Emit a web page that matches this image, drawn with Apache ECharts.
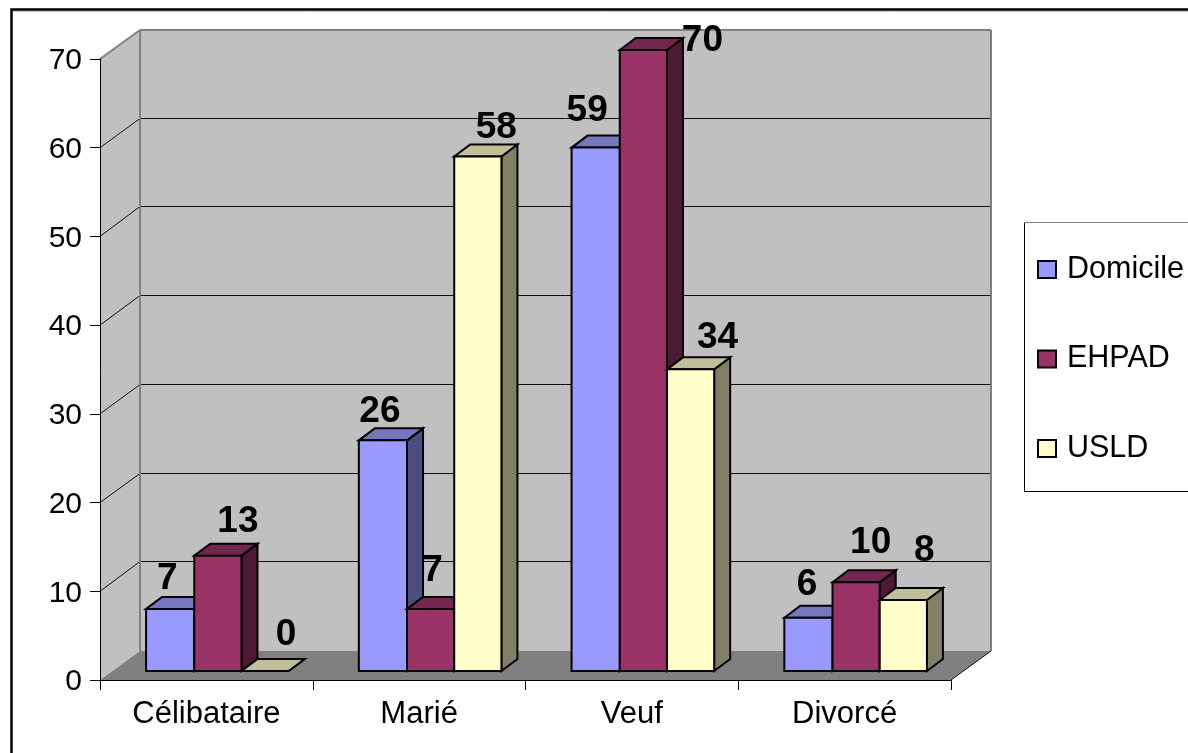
<!DOCTYPE html>
<html>
<head>
<meta charset="utf-8">
<style>html,body{margin:0;padding:0;background:#fff}#c{width:1188px;height:753px}</style>
<script src="https://cdn.jsdelivr.net/npm/echarts@6/dist/echarts.min.js"></script>
</head>
<body>
<div id="c"></div>
<script>
const categories = ['Célibataire', 'Marié', 'Veuf', 'Divorcé'];
const domicile = [7, 26, 59, 6];
const ehpad = [13, 7, 70, 10];
const usld = [0, 58, 34, 8];
const yTicks = [0, 10, 20, 30, 40, 50, 60, 70];

const FONT = '"Liberation Sans", Arial, sans-serif';
const DEPTH = [40, -29];
const BAR_SHIFT = [11.5, -9];
const BAR_DEPTH = [16, -12];
const BAR_FRAC = 47.2 / 212.75;

const faces = {
  Domicile: { front: '#9999FF', top: '#7777BF', side: '#4D4D80', widen: 1 },
  EHPAD: { front: '#993366', top: '#732650', side: '#4D1A33', widen: 0 },
  USLD: { front: '#FFFFCC', top: '#BFBF99', side: '#808066', widen: 0 }
};
// Hand-placed label nudges from each bar's top centre, as in the source chart
const labelNudge = {
  Domicile: [[-3, -30], [-3, -29], [-8.5, -37], [-1.5, -33]],
  EHPAD: [[20, -34], [2, -38], [59, -9], [14.5, -39]],
  USLD: [[21, -36], [18.5, -29], [27, -32], [21, -49]]
};

function poly(points, fill, stroke, lw) {
  return { type: 'polygon', shape: { points }, style: { fill, stroke: stroke || null, lineWidth: lw || 0, lineJoin: 'miter' } };
}
function line(a, b, stroke, lw) {
  return { type: 'line', shape: { x1: a[0], y1: a[1], x2: b[0], y2: b[1] }, style: { stroke, lineWidth: lw } };
}

function renderWalls(params, api) {
  const lo = api.coord([0, 0])[1], hi = api.coord([0, 70])[1];
  const cs = params.coordSys;
  const x0 = cs.x, x1 = cs.x + cs.width;
  const [dx, dy] = DEPTH;
  const children = [
    poly([[x0, lo], [x0 + dx, lo + dy], [x0 + dx, hi + dy], [x0, hi]], '#C0C0C0'),
    poly([[x0 + dx, lo + dy], [x1 + dx, lo + dy], [x1 + dx, hi + dy], [x0 + dx, hi + dy]], '#C0C0C0'),
    poly([[x0, lo], [x0 + dx, lo + dy], [x1 + dx, lo + dy], [x1, lo]], '#808080')
  ];
  yTicks.slice(1, -1).forEach(v => {
    const y = api.coord([0, v])[1];
    const back = Math.floor(y + dy - 0.5) + 0.5;
    children.push(line([x0, y], [x0 + dx, back], '#111', 1));
    children.push(line([x0 + dx, back], [x1 + dx, back], '#111', 1));
  });
  children.push(line([x0, hi], [x0 + dx, hi + dy], '#808080', 2));
  children.push(line([x0 + dx, hi + dy], [x1 + dx, hi + dy], '#808080', 2));
  children.push(line([x0 + dx, hi + dy], [x0 + dx, lo + dy], '#808080', 2));
  children.push(line([x1 + dx, hi + dy], [x1 + dx, lo + dy], '#808080', 2));
  children.push(line([x1, lo], [x1 + dx, lo + dy], '#111', 1));
  return { type: 'group', children };
}

function barRenderer(name, order) {
  const f = faces[name];
  return function (params, api) {
    const cat = api.value(0), val = api.value(1);
    const base = api.coord([cat, 0]);
    const top = api.coord([cat, val]);
    const w = api.size([1, 0])[0] * BAR_FRAC;
    const xl = base[0] + BAR_SHIFT[0] + (order - 1.5) * w - f.widen;
    const xr = base[0] + BAR_SHIFT[0] + (order - 0.5) * w;
    const yb = base[1] + BAR_SHIFT[1];
    const yt = top[1] + BAR_SHIFT[1];
    const [ox, oy] = BAR_DEPTH;
    const n = labelNudge[name][params.dataIndex];
    return {
      type: 'group',
      children: [
        poly([[xr, yb], [xr + ox, yb + oy], [xr + ox, yt + oy], [xr, yt]], f.side, '#000', 2),
        poly([[xl, yt], [xl + ox, yt + oy], [xr + ox, yt + oy], [xr, yt]], f.top, '#000', 2),
        poly([[xl, yb], [xr, yb], [xr, yt], [xl, yt]], f.front, '#000', 2),
        {
          type: 'text',
          x: (xl + xr) / 2 + n[0],
          y: yt + n[1],
          style: { text: String(val), fill: '#000', font: 'bold 37px ' + FONT, align: 'center', verticalAlign: 'middle' }
        }
      ]
    };
  };
}

function barSeries(name, order, values) {
  return {
    type: 'custom',
    name,
    z: 3 + order,
    renderItem: barRenderer(name, order),
    itemStyle: { color: faces[name].front },
    encode: { x: 0, y: 1 },
    data: values.map((v, i) => [i, v]),
    silent: true
  };
}

const chart = echarts.init(document.getElementById('c'), null, { renderer: 'canvas' });
chart.setOption({
  animation: false,
  backgroundColor: '#fff',
  textStyle: { fontFamily: FONT },
  graphic: [
    { type: 'rect', z: -1, shape: { x: 11.5, y: 9.5, width: 1300, height: 1000 }, style: { fill: '#fff', stroke: '#000', lineWidth: 2.5 } },
    { type: 'line', z: -1, shape: { x1: 13, y1: 11.5, x2: 1188, y2: 11.5 }, style: { stroke: '#C0C0C0', lineWidth: 1 } },
    { type: 'rect', z: 1, shape: { x: 1024.5, y: 222.5, width: 300, height: 269 }, style: { fill: '#fff', stroke: '#000', lineWidth: 1 } },
    { type: 'line', z: 1, shape: { x1: 1024, y1: 222.5, x2: 1188, y2: 222.5 }, style: { stroke: '#808080', lineWidth: 1 } }
  ],
  grid: { left: 100, top: 59, width: 851, height: 621, containLabel: false },
  xAxis: {
    type: 'category',
    data: categories,
    z: 8,
    axisLine: { show: true, lineStyle: { color: '#000', width: 1 } },
    axisTick: { show: true, length: 10, alignWithLabel: false, lineStyle: { color: '#000', width: 1 } },
    axisLabel: { margin: 19, fontSize: 31, color: '#000', fontFamily: FONT },
    splitLine: { show: false }
  },
  yAxis: {
    type: 'value',
    min: 0,
    max: 70,
    interval: 10,
    z: 8,
    axisLine: { show: true, lineStyle: { color: '#000', width: 1 } },
    axisTick: { show: true, length: 10, lineStyle: { color: '#000', width: 1 } },
    axisLabel: { margin: 18, fontSize: 30, color: '#000', fontFamily: FONT, verticalAlign: 'top', lineHeight: 4 },
    splitLine: { show: false }
  },
  legend: {
    data: ['Domicile', 'EHPAD', 'USLD'],
    orient: 'vertical',
    left: 1037,
    top: 254,
    itemWidth: 18,
    itemHeight: 17,
    itemGap: 58.5,
    icon: 'rect',
    selectedMode: false,
    padding: 0,
    z: 10,
    itemStyle: { borderColor: '#000', borderWidth: 2 },
    textStyle: { fontSize: 30.5, color: '#000', fontFamily: FONT, padding: [0, 0, 0, 6] }
  },
  series: [
    { type: 'custom', name: 'walls', z: 1, silent: true, renderItem: renderWalls, data: [0], encode: { x: 0 } },
    barSeries('Domicile', 0, domicile),
    barSeries('EHPAD', 1, ehpad),
    barSeries('USLD', 2, usld)
  ]
});
</script>
</body>
</html>
